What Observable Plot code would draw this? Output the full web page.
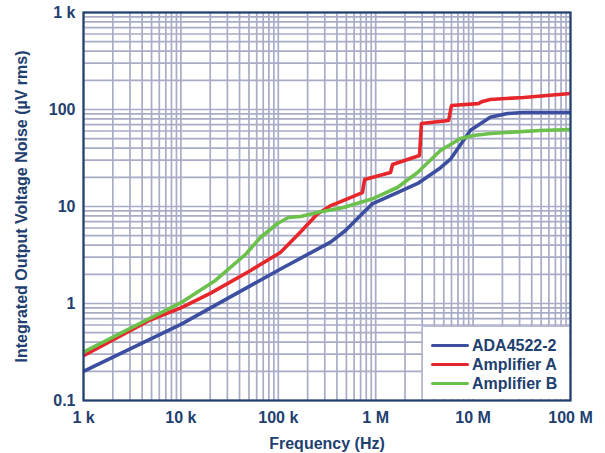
<!DOCTYPE html>
<html>
<head>
<meta charset="utf-8">
<script src="https://cdn.jsdelivr.net/npm/d3@7"></script>
<script src="https://cdn.jsdelivr.net/npm/@observablehq/plot@0.6"></script>
<style>
  html, body { margin: 0; padding: 0; background: #fff; }
  #wrap { position: relative; width: 605px; height: 453px; font-family: "Liberation Sans", Arial, sans-serif; }
  #legend { position: absolute; left: 422px; top: 326px; width: 146px; height: 72px;
            background: #fff; border-left: 1px solid #b7b9cf; border-top: 1px solid #b7b9cf; }
  .item { position: absolute; left: 8px; height: 19px; display: flex; align-items: center;
          font: bold 16px "Liberation Sans", Arial, sans-serif; color: #22406f; }
  .sw { width: 38px; height: 3.5px; margin-right: 3px; border-radius: 2px; }
</style>
</head>
<body>
<div id="wrap"><div id="chart"></div><div id="legend"></div></div>
<script>
// Series names and colours
const seriesNames = ["ADA4522-2", "Amplifier A", "Amplifier B"];
const seriesColors = ["#3b4ea0", "#e6262b", "#6cc04c"];

// ADA4522-2
const adaFreq  = [1e3, 1e4, 1e5, 3.44e5, 4.9e5, 7.85e5, 9.3e5, 1.67e6, 2.7e6, 4.6e6, 5.9e6, 9.4e6, 1.5e7, 2.25e7, 3.3e7, 1e8];
const adaNoise = [0.2, 0.61, 2.2, 4.3, 5.66, 9.1, 10.7, 13.9, 17.3, 25, 31, 61, 83, 91, 93, 93];

// Amplifier A
const ampAFreq  = [1e3, 4.9e3, 1e4, 2e4, 5.2e4, 1.05e5, 1.7e5, 2.5e5, 3.44e5, 3.9e5, 7.3e5, 7.7e5, 1.42e6, 1.49e6, 2.82e6, 2.95e6, 5.6e6, 6.0e6, 1.13e7, 1.25e7, 1.5e7, 3.3e7, 1e8];
const ampANoise = [0.29, 0.68, 0.9, 1.27, 2.19, 3.36, 5.5, 8.3, 10.2, 10.7, 13.9, 19.0, 22.4, 27.1, 33.6, 71.8, 77, 110, 115, 121, 127, 133, 146];

// Amplifier B
const ampBFreq  = [1e3, 1e4, 2.26e4, 4.6e4, 6.56e4, 9.8e4, 1.27e5, 1.69e5, 2.52e5, 4.67e5, 9.48e5, 1.67e6, 2.69e6, 4.62e6, 7.43e6, 1.01e7, 1.51e7, 4.9e7, 1e8];
const ampBNoise = [0.315, 1.02, 1.73, 3.2, 4.79, 6.68, 7.7, 7.9, 8.67, 9.77, 12.1, 15.7, 22.4, 37.8, 50.2, 53.9, 56.6, 60.8, 62.2];

// Tick values and labels
const xTickValues = [1e3, 1e4, 1e5, 1e6, 1e7, 1e8];
const xTickLabels = ["1 k", "10 k", "100 k", "1 M", "10 M", "100 M"];
const yTickValues = [0.1, 1, 10, 100, 1000];
const yTickLabels = ["0.1", "1", "10", "100", "1 k"];

const navy = "#22406f";
const gridColor = "#a9acc6";

// Build table
const freqs = [adaFreq, ampAFreq, ampBFreq];
const noises = [adaNoise, ampANoise, ampBNoise];
const data = [];
seriesNames.forEach((name, s) => {
  freqs[s].forEach((f, i) => data.push({series: name, f, v: noises[s][i]}));
});

const xLabelMap = new Map(xTickValues.map((v, i) => [v, xTickLabels[i]]));
const yLabelMap = new Map(yTickValues.map((v, i) => [v, yTickLabels[i]]));

// Log grid (1..9 per decade)
function logGrid(lo, hi) {
  const out = [];
  for (let e = Math.round(Math.log10(lo)); e < Math.round(Math.log10(hi)); e++)
    for (let k = 1; k < 10; k++) out.push(k * Math.pow(10, e));
  out.push(hi);
  return out;
}
const xGrid = logGrid(1e3, 1e8);
const yGrid = logGrid(0.1, 1e3);

const chart = Plot.plot({
  width: 605,
  height: 453,
  marginLeft: 83,
  marginRight: 35,
  marginTop: 12,
  marginBottom: 53,
  style: {fontFamily: "'Liberation Sans', Arial, sans-serif", fontSize: "16px", fontWeight: "bold", color: navy, background: "#fff"},
  x: {type: "log", domain: [1e3, 1e8]},
  y: {type: "log", domain: [0.1, 1e3]},
  color: {domain: seriesNames, range: seriesColors},
  marks: [
    Plot.ruleX(xGrid, {stroke: gridColor, strokeWidth: 1.7}),
    Plot.ruleY(yGrid, {stroke: gridColor, strokeWidth: 1.7}),
    Plot.line(data, {x: "f", y: "v", z: "series", stroke: "series", strokeWidth: 3.6, strokeLinejoin: "round", strokeLinecap: "butt"}),
    Plot.frame({stroke: navy, strokeWidth: 2.2}),
    Plot.axisX({ticks: xTickValues, tickFormat: (d) => xLabelMap.get(d), tickSize: 0, tickPadding: 11,
      label: "Frequency (Hz)", labelAnchor: "center", labelArrow: "none", labelOffset: 48}),
    Plot.axisY({ticks: yTickValues, tickFormat: (d) => yLabelMap.get(d), tickSize: 0, tickPadding: 8,
      label: "Integrated Output Voltage Noise (µV rms)", labelAnchor: "center", labelArrow: "none", labelOffset: 68})
  ]
});
document.getElementById("chart").appendChild(chart);

// Legend
const legend = document.getElementById("legend");
seriesNames.forEach((name, i) => {
  const it = document.createElement("div");
  it.className = "item";
  it.style.top = (9 + i * 19) + "px";
  const sw = document.createElement("div");
  sw.className = "sw";
  sw.style.background = seriesColors[i];
  const tx = document.createElement("span");
  tx.textContent = name;
  it.appendChild(sw); it.appendChild(tx);
  legend.appendChild(it);
});
</script>
</body>
</html>
